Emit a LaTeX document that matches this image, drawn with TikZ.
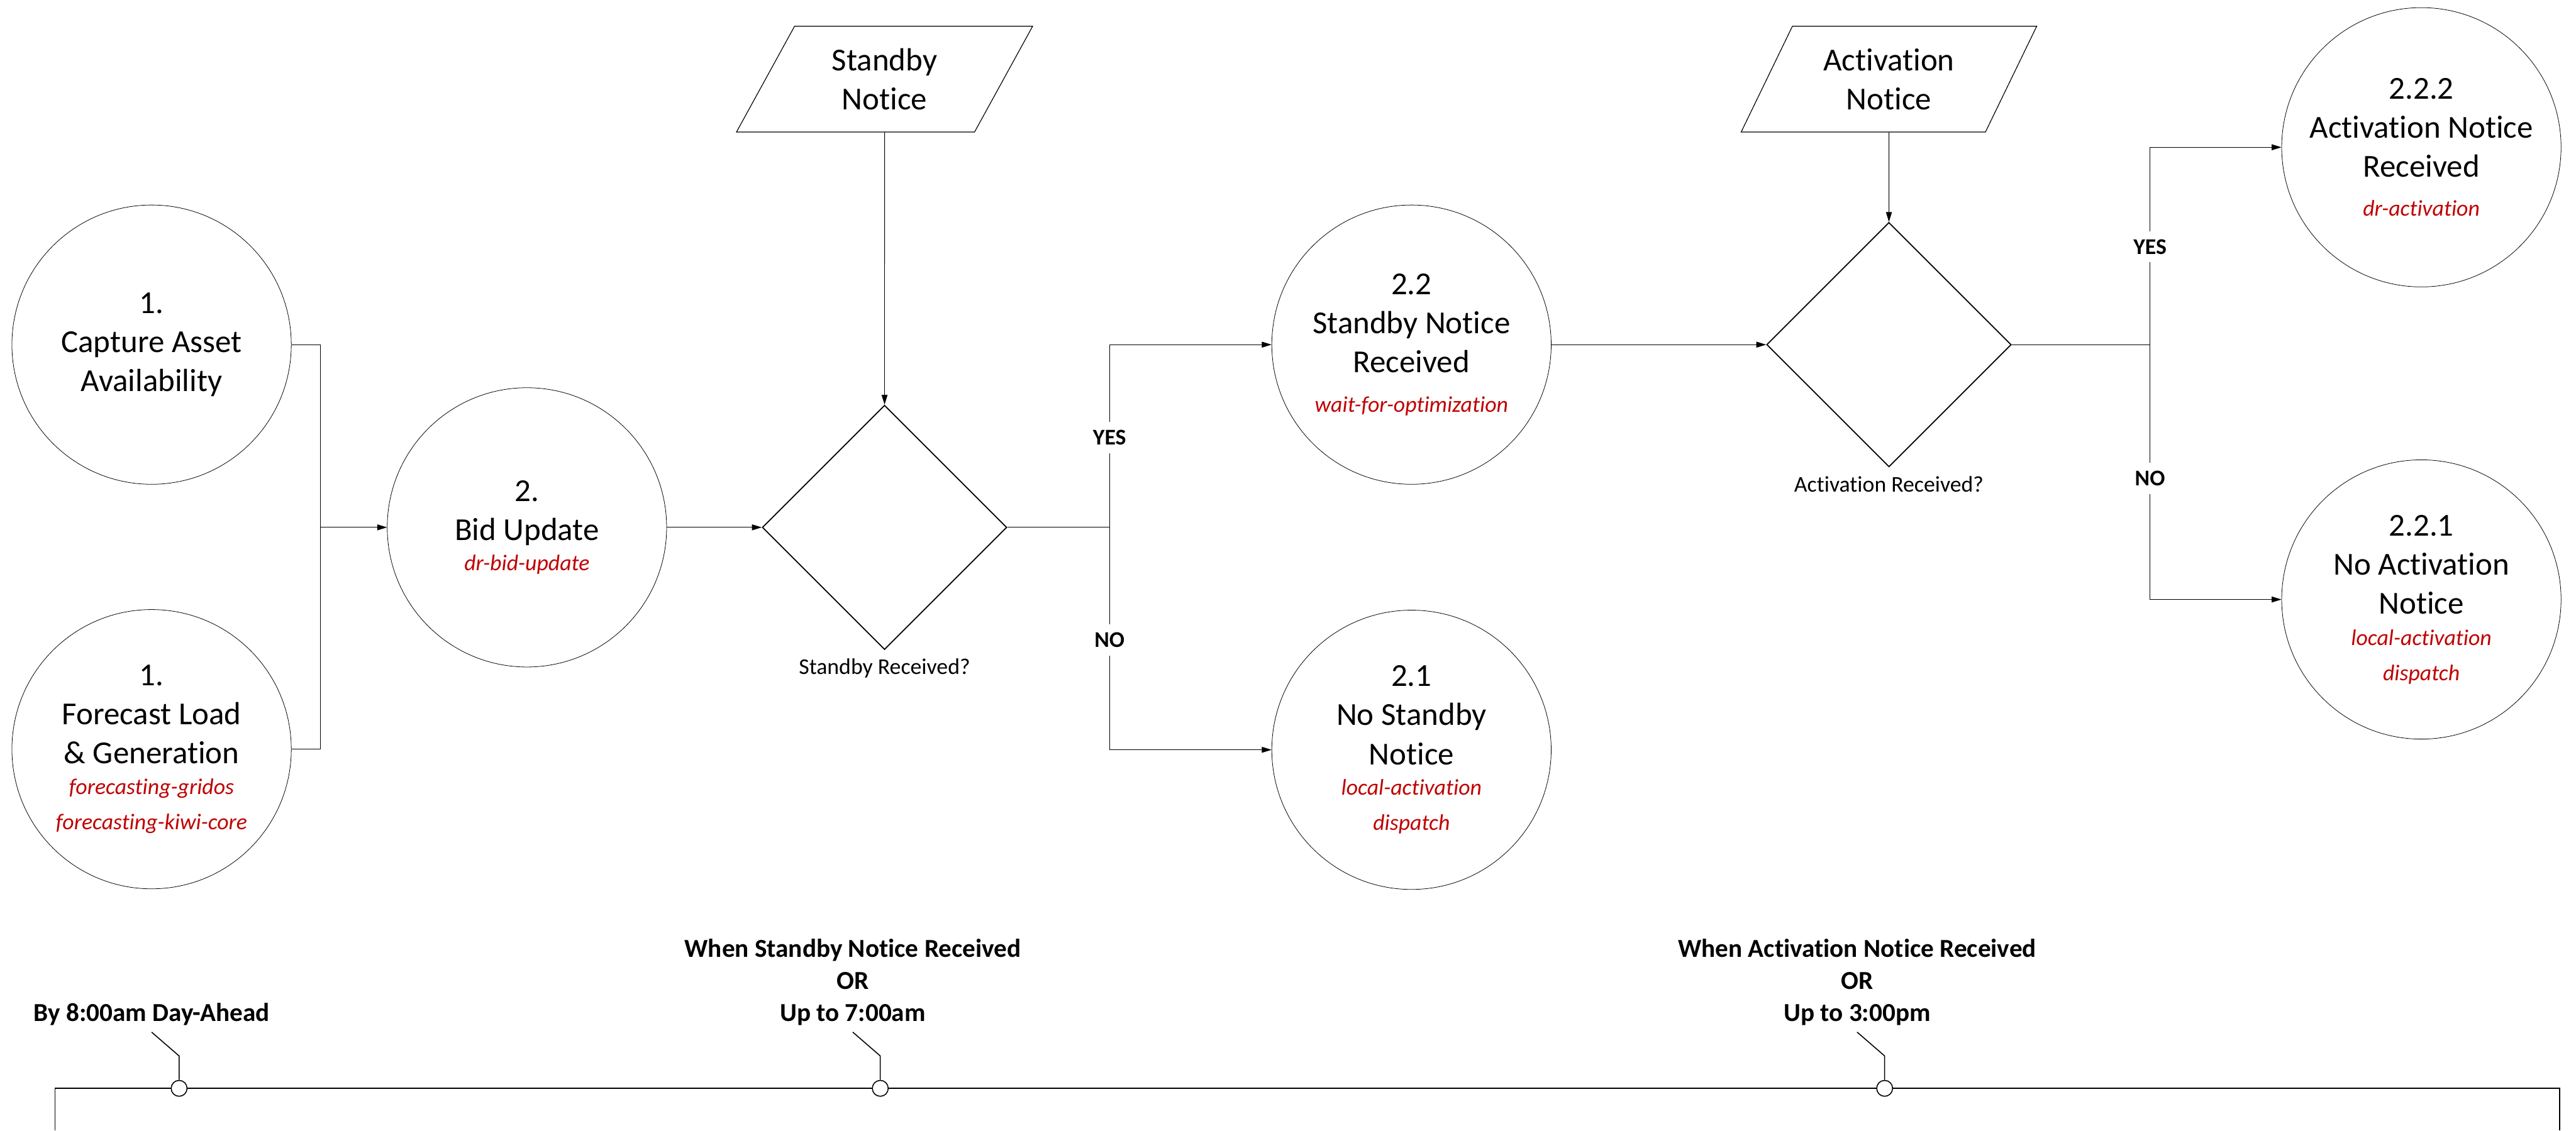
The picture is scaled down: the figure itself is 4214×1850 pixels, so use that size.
\documentclass[tikz,border=0pt]{standalone}
\usepackage{fontspec}
\setmainfont{Carlito}[Ligatures=NoCommon]
\usetikzlibrary{shapes.geometric,arrows.meta}

\definecolor{tagred}{RGB}{192,0,0}
\newcommand{\svc}[1]{{\fontsize{9.2}{11}\selectfont\itshape\color{tagred}#1}}

\tikzset{
  proc/.style={draw, circle, line width=0.2pt, minimum size=114.25pt,
    inner sep=0pt, align=center, font=\fontsize{13.1}{16}\selectfont},
  decision/.style={draw, diamond, line width=0.45pt, minimum width=100pt,
    minimum height=100pt, inner sep=0pt, label distance=2pt},
  notice/.style={draw, trapezium, trapezium left angle=63.3,
    trapezium right angle=116.7, trapezium stretches=true,
    minimum width=121.5pt, minimum height=43.25pt, line width=0.3pt,
    align=center, font=\fontsize{13.1}{16}\selectfont},
  question/.style={font=\fontsize{9.2}{11}\selectfont},
  answer/.style={fill=white, font=\fontsize{9.2}{11}\selectfont\bfseries},
  link/.style={line width=0.25pt},
  flow/.style={line width=0.25pt, -{Triangle[length=4pt,width=2.4pt]}},
  axis/.style={line width=0.45pt},
  leader/.style={line width=0.4pt},
  tmark/.style={draw, circle, fill=white, line width=0.4pt,
    minimum size=6.5pt, inner sep=0pt},
  tlabel/.style={anchor=south, align=center, inner sep=2.5pt,
    font=\fontsize{10.6}{13.1}\selectfont\bfseries}
}

\begin{document}
\begin{tikzpicture}[x=0.25pt, y=-0.25pt]
    \useasboundingbox (0,0) rectangle (4214,1850);

    % Step 1: inputs
    \node [proc] (cap) at (248,564) {1.\\Capture Asset\\Availability};
    \node [proc] (fc) at (248,1226)
      {1.\\Forecast Load\\\& Generation\\[-3.5pt]\svc{forecasting-gridos}\\[-1.5pt]\svc{forecasting-kiwi-core}};

    % Step 2: bid update
    \node [proc] (bid) at (862,863) {2.\\Bid Update\\[-3.5pt]\svc{dr-bid-update}};

    % Standby notice and decision
    \node [notice] (sbn) at (1447,129.5) {Standby\\Notice};
    \node [decision,
    label={[question]below:Standby Received?}] (sbq) at (1447,863) {};

    % Step 2.x outcomes
    \node [proc] (sbr) at (2309,564)
      {2.2\\Standby Notice\\Received\\\svc{wait-for-optimization}};
    \node [proc] (nsb) at (2309,1227)
      {2.1\\No Standby\\Notice\\[-3.5pt]\svc{local-activation}\\[-1.5pt]\svc{dispatch}};

    % Activation notice and decision
    \node [notice] (acn) at (3090,129.5) {Activation\\Notice};
    \node [decision,
    label={[question]below:Activation Received?}] (acq) at (3090,564) {};

    % Step 2.2.x outcomes
    \node [proc] (acr) at (3961,241)
      {2.2.2\\Activation Notice\\Received\\\svc{dr-activation}};
    \node [proc] (nac) at (3961,981)
      {2.2.1\\No Activation\\Notice\\[-3pt]\svc{local-activation}\\[-1.75pt]\svc{dispatch}};

    % Connectors
    \coordinate (merge) at (524,863);
    \draw [link] (cap.east) -| (merge);
    \draw [link] (fc.east) -| (merge);
    \draw [flow] (merge) -- (bid.west);
    \draw [flow] (bid.east) -- (sbq.west);
    \draw [flow] (sbn.south) -- (sbq.north);

    \coordinate (split1) at (1815,863);
    \draw [link] (sbq.east) -- (split1);
    \draw [flow] (split1) |- (sbr.west);
    \draw [flow] (split1) |- (nsb.west);
    \node [answer] (yes1) at (1815,716) {YES};
    \node [answer] (no1) at (1815,1047) {NO};

    \draw [flow] (sbr.east) -- (acq.west);
    \draw [flow] (acn.south) -- (acq.north);

    \coordinate (split2) at (3517,564);
    \draw [link] (acq.east) -- (split2);
    \draw [flow] (split2) |- (acr.west);
    \draw [flow] (split2) |- (nac.west);
    \node [answer] (yes2) at (3517,404) {YES};
    \node [answer] (no2) at (3517,783) {NO};

    % Timeline
    \coordinate (tl) at (90,1850);
    \coordinate (tla) at (90,1781);
    \coordinate (tra) at (4187,1781);
    \coordinate (tr) at (4187,1850);
    \draw [axis] (tl) -- (tla) -- (tra) -- (tr);

    \foreach \x/\n in {293/1, 1440/2, 3083/3}
      \node [tmark] (m\n) at (\x,1781) {};

    \node [tlabel] (t1) at (248,1689) {By 8:00am Day-Ahead};
    \node [tlabel] (t2) at (1395,1689) {When Standby Notice Received\\OR\\Up to 7:00am};
    \node [tlabel] (t3) at (3038,1689) {When Activation Notice Received\\OR\\Up to 3:00pm};

    \foreach \n in {1,2,3}
      \draw [leader] (t\n.south) -- ++(45,39) -- (m\n.north);
\end{tikzpicture}
\end{document}
